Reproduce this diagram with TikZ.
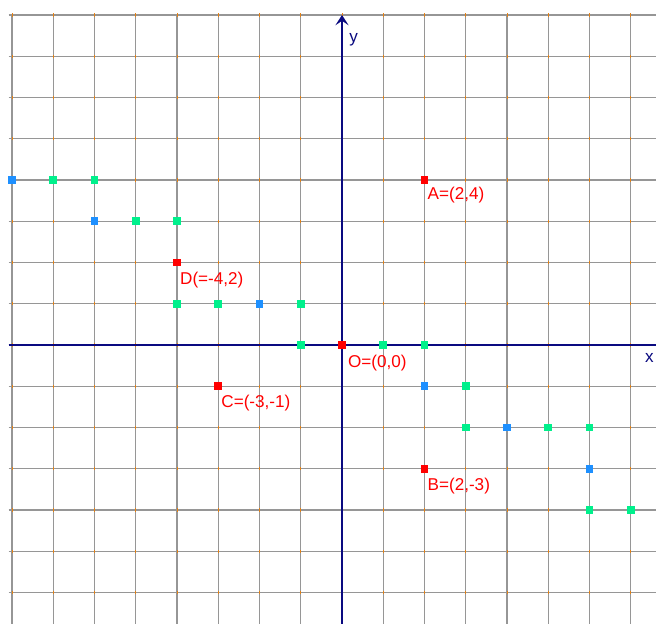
\documentclass[tikz,border=0pt]{standalone}
\usepackage{fontspec}
\setmainfont{Liberation Sans}
\usetikzlibrary{arrows.meta}
\definecolor{axisnavy}{RGB}{10,10,128}
\definecolor{ptred}{RGB}{255,0,0}
\definecolor{ptblue}{RGB}{30,144,255}
\definecolor{ptgreen}{RGB}{0,240,140}
\definecolor{tickorange}{RGB}{230,130,20}
\definecolor{gridgray}{RGB}{150,150,150}
\tikzset{
  gridline/.style={draw=gridgray, line width=0.9pt},
  axisline/.style={draw=axisnavy, line width=1.4pt},
  sq/.style={rectangle, inner sep=0pt, minimum size=0.19cm, draw=none},
  redsq/.style={sq, fill=ptred},
  bluesq/.style={sq, fill=ptblue},
  greensq/.style={sq, fill=ptgreen},
  ptlabel/.style={anchor=base west, inner sep=0pt, text=ptred, font=\fontsize{11.8}{14}\selectfont},
  axlabel/.style={inner sep=0pt, text=axisnavy, font=\fontsize{11.8}{14}\selectfont}
}
\begin{document}
\begin{tikzpicture}
\useasboundingbox (-8.291,-6.739) rectangle (7.612,8.364);
\fill[white] (-8.291,-6.739) rectangle (7.612,8.364);
% grid
\foreach \x in {-8,...,7} \draw[gridline] (\x,8) -- (\x,-6.8);
\foreach \y in {-6,...,8} \draw[gridline] (-8.08,\y) -- (7.7,\y);
% tiny orange ticks
\foreach \x in {-8,...,7} \foreach \y in {-6,...,8}
  \draw[tickorange, line width=0.5pt] (\x,\y-0.04) -- (\x,\y+0.04);
% axes
\draw[axisline] (-8.08,0) -- (7.7,0);
\draw[axisline, -{Stealth[length=7pt,width=9pt,inset=3pt]}] (0,-6.8) -- (0,8.0);
\node[axlabel] (ylab) at (0.28,7.39) {y};
\node[axlabel] (xlab) at (7.45,-0.32) {x};
% blue squares
\foreach \p [count=\i] in {(-8,4),(-6,3),(-2,1),(2,-1),(4,-2),(6,-3)}
  \node[bluesq] (b\i) at \p {};
% green squares
\foreach \p [count=\i] in {(-7,4),(-6,4),(-5,3),(-4,3),(-4,1),(-3,1),(-1,1),(-1,0),(1,0),(2,0),(3,-1),(3,-2),(5,-2),(6,-2),(6,-4),(7,-4)}
  \node[greensq] (g\i) at \p {};
% red points
\node[redsq] (A) at (2,4) {};
\node[redsq] (D) at (-4,2) {};
\node[redsq] (C) at (-3,-1) {};
\node[redsq] (B) at (2,-3) {};
\node[redsq] (O) at (0,0) {};
\node[ptlabel] (Alab) at (2.07,3.53) {A=(2,4)};
\node[ptlabel] (Dlab) at (-3.93,1.47) {D(=-4,2)};
\node[ptlabel] (Clab) at (-2.93,-1.52) {C=(-3,-1)};
\node[ptlabel] (Blab) at (2.07,-3.52) {B=(2,-3)};
\node[ptlabel] (Olab) at (0.14,-0.54) {O=(0,0)};
\end{tikzpicture}
\end{document}
